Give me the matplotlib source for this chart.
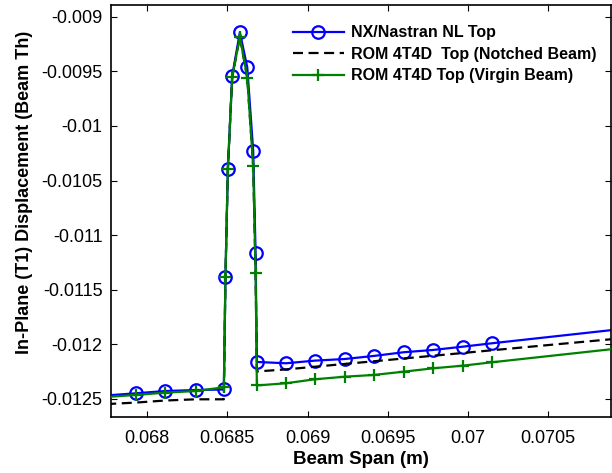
import numpy as np
import matplotlib
matplotlib.use('Agg')
import matplotlib.pyplot as plt
from matplotlib.ticker import FuncFormatter

plt.rcParams['font.family'] = ['Liberation Sans', 'DejaVu Sans']

# beam span stations (m)
span = [0.067744, 0.067928, 0.068113, 0.068302, 0.068478, 0.068488, 0.068503,
        0.068530, 0.068578, 0.068624, 0.068661, 0.068676, 0.068684, 0.068866,
        0.069044, 0.069231, 0.069413, 0.069600, 0.069784, 0.069969, 0.070150,
        0.071078]

nastran_top = [-0.012468, -0.012448, -0.012427, -0.012418, -0.012413, -0.011380,
               -0.010394, -0.009542, -0.009142, -0.009462, -0.010226, -0.011166,
               -0.012161, -0.012173, -0.012149, -0.012134, -0.012106, -0.012072,
               -0.012051, -0.012021, -0.011990, -0.011840]

rom_notched = [-0.012547, -0.012533, -0.012514, -0.012503, -0.012503, -0.011380,
               -0.010394, -0.009554, -0.009182, -0.009558, -0.010364, -0.011343,
               -0.012248, -0.012229, -0.012205, -0.012179, -0.012155, -0.012129,
               -0.012104, -0.012079, -0.012054, -0.011928]

rom_virgin = [-0.012482, -0.012463, -0.012442, -0.012427, -0.012393, -0.011380,
              -0.010394, -0.009554, -0.009182, -0.009558, -0.010364, -0.011343,
              -0.012376, -0.012356, -0.012320, -0.012296, -0.012280, -0.012250,
              -0.012219, -0.012195, -0.012164, -0.012015]

xticks = [0.068, 0.0685, 0.069, 0.0695, 0.07, 0.0705]
yticks = [-0.009, -0.0095, -0.01, -0.0105, -0.011, -0.0115, -0.012, -0.0125]

# no markers on the end stations (outside the plotted window)
marks = list(range(1, len(span) - 1))

fig = plt.figure(figsize=(6.12, 4.73), dpi=100)
ax = fig.add_axes([0.1814, 0.1184, 0.8176, 0.871])

ax.plot(span, nastran_top, color='blue', lw=1.6, marker='o', markersize=9,
        markerfacecolor='none', markeredgewidth=1.6, markevery=marks,
        label='NX/Nastran NL Top', zorder=2)
ax.plot(span, rom_notched, color='black', lw=1.6, linestyle=(0, (4.5, 2.5)),
        label='ROM 4T4D  Top (Notched Beam)', zorder=3)
ax.plot(span, rom_virgin, color='green', lw=1.6, marker='+', markersize=8,
        markeredgewidth=1.6, markevery=marks,
        label='ROM 4T4D Top (Virgin Beam)', zorder=4)

ax.set_xlim(0.067774, 0.070896)
ax.set_ylim(-0.012665, -0.008892)
ax.set_xticks(xticks)
ax.set_yticks(yticks)
fmt = FuncFormatter(lambda v, p: ('%g' % v))
ax.xaxis.set_major_formatter(fmt)
ax.yaxis.set_major_formatter(fmt)
ax.tick_params(direction='in', length=4, width=0.8, top=True, right=True,
               labelsize=13)
ax.tick_params(axis='x', pad=9.5)
ax.tick_params(axis='y', pad=6)
for s in ax.spines.values():
    s.set_linewidth(1.2)

ax.set_xlabel('Beam Span (m)', fontsize=13.5, fontweight='bold', labelpad=3)
ax.set_ylabel('In-Plane (T1) Displacement (Beam Th)', fontsize=13,
              fontweight='bold')
ax.yaxis.set_label_coords(-0.156, 0.546)

leg = ax.legend(loc='upper left', bbox_to_anchor=(0.35, 0.966), frameon=False,
                prop={'weight': 'bold', 'size': 11.5}, handlelength=3.2,
                handletextpad=0.45, labelspacing=0.4, borderaxespad=0)

fig.savefig('out.png', dpi=100)
